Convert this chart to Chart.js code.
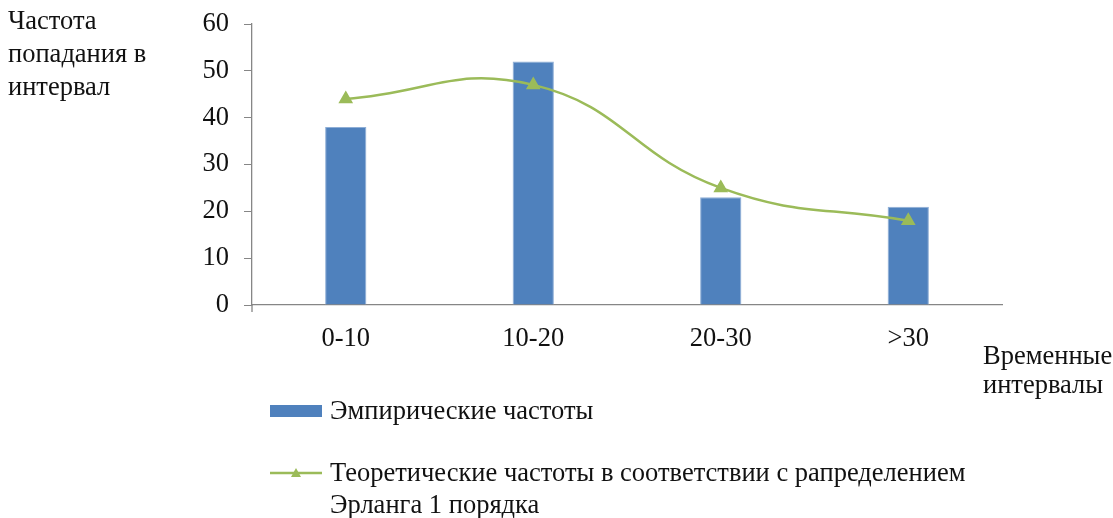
<!DOCTYPE html>
<html>
<head>
<meta charset="utf-8">
<script src="https://cdn.jsdelivr.net/npm/chart.js@4/dist/chart.umd.min.js"></script>
<style>
  html, body { margin: 0; padding: 0; background: #fff; }
  #wrap { width: 1113px; height: 518px; }
</style>
</head>
<body>
<div id="wrap"><canvas id="c" width="1113" height="518"></canvas></div>
<script>
// Time intervals and hit frequencies
const categories = ['0-10', '10-20', '20-30', '>30'];
const empirical = [38, 52, 23, 21];
const theoretical = [44, 47, 25, 18];
const yTicks = [0, 10, 20, 30, 40, 50, 60];

const empiricalLabel = 'Эмпирические частоты';
const theoreticalLabel = ['Теоретические частоты в соответствии с рапределением', 'Эрланга 1 порядка'];
const yTitle = ['Частота', 'попадания в', 'интервал'];
const xTitle = ['Временные', 'интервалы'];

const FONT = '"Liberation Serif", "Times New Roman", serif';
const FS = 26.5;
const BLUE = '#4F81BD';
const GREEN = '#9BBB59';
const AXIS = '#868686';

// Axis titles and the two-row legend below the plot
const annotations = {
  id: 'annotations',
  afterDraw(chart) {
    const ctx = chart.ctx;
    const bar = chart.data.datasets.find(d => d.type === 'bar');
    const line = chart.data.datasets.find(d => d.type === 'line');
    const area = chart.chartArea;
    ctx.save();

    // short tick below the axis corner
    ctx.strokeStyle = AXIS;
    ctx.lineWidth = 1.3;
    ctx.beginPath();
    ctx.moveTo(area.left, area.bottom);
    ctx.lineTo(area.left, area.bottom + 7);
    ctx.stroke();

    ctx.fillStyle = '#111';
    ctx.font = FS + 'px ' + FONT;
    ctx.textBaseline = 'middle';
    ctx.textAlign = 'left';
    yTitle.forEach((t, i) => ctx.fillText(t, 8, 22 + i * 33));
    xTitle.forEach((t, i) => ctx.fillText(t, 983, 357 + i * 29));

    // legend: bar item
    ctx.fillStyle = bar.backgroundColor;
    ctx.fillRect(270, 405, 52, 12);
    ctx.fillStyle = '#111';
    ctx.fillText(bar.label, 330, 412);

    // legend: line item
    ctx.strokeStyle = line.borderColor;
    ctx.lineWidth = 2.5;
    ctx.beginPath();
    ctx.moveTo(270, 473);
    ctx.lineTo(322, 473);
    ctx.stroke();
    ctx.fillStyle = line.borderColor;
    ctx.beginPath();
    ctx.moveTo(296, 468); ctx.lineTo(301, 477); ctx.lineTo(291, 477); ctx.closePath();
    ctx.fill();
    ctx.fillStyle = '#111';
    theoreticalLabel.forEach((t, i) => ctx.fillText(t, 330, 474 + i * 32));
    ctx.restore();
  }
};

new Chart(document.getElementById('c'), {
  data: {
    labels: categories,
    datasets: [
      {
        type: 'line',
        label: theoreticalLabel.join(' '),
        data: theoretical,
        borderColor: GREEN,
        backgroundColor: GREEN,
        borderWidth: 2.5,
        tension: 0.45,
        pointStyle: 'triangle',
        pointRadius: 6,
        pointBackgroundColor: GREEN,
        pointBorderColor: GREEN,
        order: 0
      },
      {
        type: 'bar',
        label: empiricalLabel,
        data: empirical,
        backgroundColor: BLUE,
        borderColor: '#8eaed6',
        borderWidth: 1,
        categoryPercentage: 1,
        barPercentage: 0.22,
        order: 1
      }
    ]
  },
  options: {
    responsive: false,
    animation: false,
    layout: { padding: { left: 0, top: 24, right: 111, bottom: 0 } },
    plugins: { legend: { display: false }, tooltip: { enabled: false } },
    scales: {
      x: {
        offset: true,
        grid: { display: true, drawOnChartArea: false, drawTicks: false },
        border: { color: AXIS, width: 1.3 },
        ticks: { color: '#111', font: { family: FONT, size: FS }, padding: 18 },
        afterFit(s) { s.height = 213; s.paddingLeft = 0; s.paddingRight = 0; }
      },
      y: {
        min: 0,
        max: 60,
        afterBuildTicks(s) { s.ticks = yTicks.map(v => ({ value: v })); },
        grid: { drawOnChartArea: false, drawTicks: true, tickLength: 8, color: AXIS },
        border: { color: AXIS, width: 1.3 },
        ticks: { color: '#111', font: { family: FONT, size: FS }, padding: 15 },
        afterFit(s) { s.width = 252; s.paddingTop = 0; s.paddingBottom = 0; }
      }
    }
  },
  plugins: [annotations]
});
</script>
</body>
</html>
